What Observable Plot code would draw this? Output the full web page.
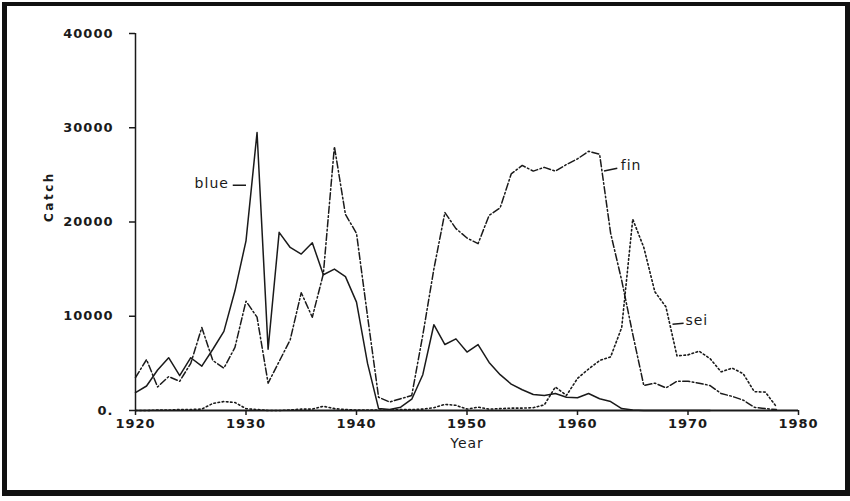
<!DOCTYPE html>
<html>
<head>
<meta charset="utf-8">
<script src="https://cdn.jsdelivr.net/npm/d3@7"></script>
<script src="https://cdn.jsdelivr.net/npm/@observablehq/plot@0.6"></script>
<style>
  html, body { margin: 0; padding: 0; background: #fff; }
  #wrap { position: relative; width: 850px; height: 501px; overflow: hidden; }
  #frame { position: absolute; left: 2px; top: 2px; width: 838px; height: 484px;
           border-style: solid; border-color: #111; border-width: 4px 5px 6px 5px; pointer-events: none; }
  #wrap svg { position: absolute; left: 0; top: 0; }
</style>
</head>
<body>
<div id="wrap"><div id="frame"></div></div>
<script>
const years = [1920,1921,1922,1923,1924,1925,1926,1927,1928,1929,
               1930,1931,1932,1933,1934,1935,1936,1937,1938,1939,
               1940,1941,1942,1943,1944,1945,1946,1947,1948,1949,
               1950,1951,1952,1953,1954,1955,1956,1957,1958,1959,
               1960,1961,1962,1963,1964,1965,1966,1967,1968,1969,
               1970,1971,1972,1973,1974,1975,1976,1977,1978];

const blue = [1900,2600,4300,5600,3700,5600,4700,6500,8400,12700,
              18000,29500,6500,18900,17300,16600,17800,14400,15000,14200,
              11500,5000,200,100,350,1200,3800,9100,7000,7600,
              6200,7000,5100,3800,2800,2200,1700,1600,1800,1400,
              1350,1800,1250,950,200,50,0,0,0,0,
              0,0,0];

const fin = [3500,5400,2500,3600,3100,5000,8800,5300,4500,6700,
             11600,9900,2900,5200,7500,12500,9900,14500,28000,20800,
             18800,10000,1400,900,1250,1600,8000,15000,21000,19300,
             18300,17700,20700,21500,25100,26000,25400,25800,25400,26100,
             26700,27500,27200,18800,13800,8100,2650,2900,2400,3100,
             3100,2900,2650,1800,1500,1100,350,200,100];

const sei = [0,0,50,50,100,100,150,750,950,850,
             200,100,0,0,50,150,150,450,200,100,
             50,50,50,50,100,100,150,300,650,550,
             150,350,150,200,250,250,300,600,2500,1600,
             3400,4400,5300,5700,8800,20300,17300,12600,11000,5800,
             5900,6300,5500,4100,4500,3900,2000,1950,400];

const xTicks = [1920,1930,1940,1950,1960,1970,1980];
const yTicks = [0,10000,20000,30000,40000];
const yTickLabels = ["0.","10000","20000","30000","40000"];

// series labels with short leader lines
const labelNames = ["blue","fin","sei"];
const labelYear = [1926.9, 1964.85, 1970.8];
const labelCatch = [24100, 26000, 9550];
const leaderYear1 = [1928.8, 1962.4, 1968.6];
const leaderYear2 = [1930.0, 1963.6, 1969.6];
const leaderCatch1 = [23900, 25400, 9150];
const leaderCatch2 = [23900, 25700, 9250];

const rows = (vals) => vals.map((v, i) => ({year: years[i], catch: v}));
const labels = labelNames.map((n, i) => ({name: n, year: labelYear[i], catch: labelCatch[i]}));
const leaders = labelNames.map((n, i) => ({x1: leaderYear1[i], x2: leaderYear2[i], y1: leaderCatch1[i], y2: leaderCatch2[i]}));

const ink = "#1a1a1a";

const chart = Plot.plot({
  width: 850,
  height: 501,
  marginLeft: 135,
  marginRight: 52,
  marginTop: 33,
  marginBottom: 91,
  style: {fontFamily: "DejaVu Sans", background: "transparent", color: ink},
  x: {domain: [1920, 1980]},
  y: {domain: [0, 40000]},
  marks: [
    Plot.axisX({ticks: xTicks, tickFormat: d => String(d), tickSize: 5, tickPadding: 3,
                fontSize: 13, fontWeight: "bold", label: null, stroke: ink, strokeWidth: 1.5}),
    Plot.axisY({ticks: yTicks, tickFormat: d => yTickLabels[yTicks.indexOf(d)], tickSize: 6, tickPadding: 16,
                fontSize: 13, fontWeight: "bold", label: null, stroke: ink, strokeWidth: 1.5}),
    Plot.ruleY([0], {stroke: ink, strokeWidth: 1.8}),
    Plot.ruleX([1920], {stroke: ink, strokeWidth: 1.5}),
    Plot.line(rows(sei), {x: "year", y: "catch", stroke: ink, strokeWidth: 1.6, strokeDasharray: "1.6,2.6"}),
    Plot.line(rows(fin), {x: "year", y: "catch", stroke: ink, strokeWidth: 1.5, strokeDasharray: "7,2.5,1.6,2.5"}),
    Plot.line(rows(blue), {x: "year", y: "catch", stroke: ink, strokeWidth: 1.5}),
    Plot.link(leaders, {x1: "x1", x2: "x2", y1: "y1", y2: "y2", stroke: ink, strokeWidth: 1.5}),
    Plot.text(labels, {x: "year", y: "catch", text: "name", fontSize: 14, fill: ink}),
    Plot.text(["Catch"], {frameAnchor: "left", dx: -86, rotate: -90, fontSize: 12, fontWeight: "bold", fill: ink}),
    Plot.text(["Year"], {frameAnchor: "bottom", dy: 37, fontSize: 14, fill: ink})
  ]
});

d3.select(chart).selectAll("text").style("letter-spacing", "1px");
d3.select(chart).selectAll("g[aria-label='text'] text").filter(function() { return this.textContent === "Catch"; })
  .style("letter-spacing", "2.5px");

document.getElementById("wrap").insertBefore(chart, document.getElementById("frame"));
</script>
</body>
</html>
